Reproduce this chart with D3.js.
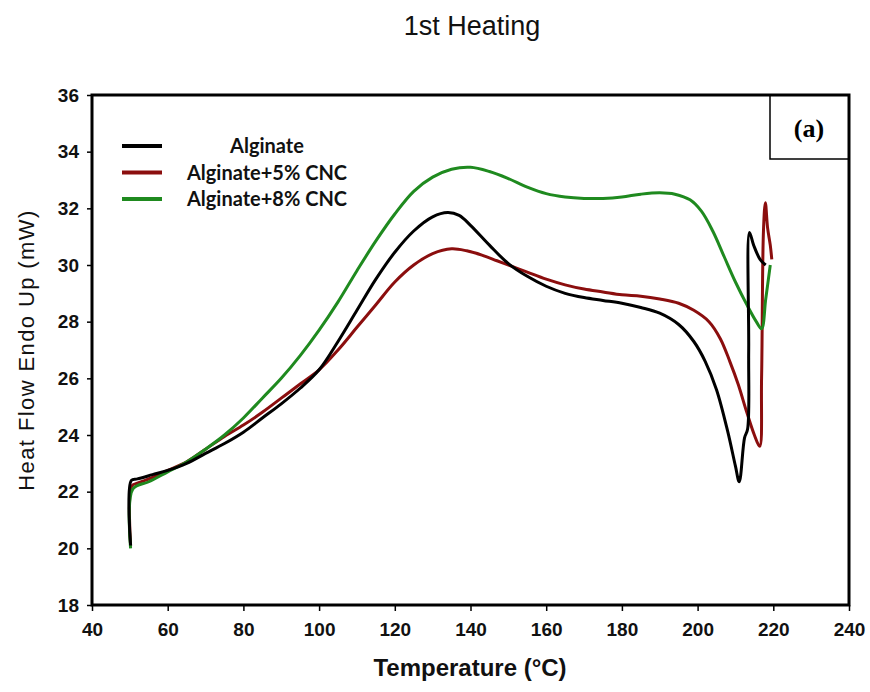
<!DOCTYPE html>
<html>
<head>
<meta charset="utf-8">
<title>1st Heating</title>
<style>
    body { margin: 0; background: #fff; }
    svg text { font-family: "Liberation Sans", Arial, sans-serif; }
</style>
</head>
<body>
<div id="chart"></div>
<script src="https://cdn.jsdelivr.net/npm/d3@7"></script>
<script>
    // data: [temperature, heat flow]
    var alginate = [[50.2,20.1],[50.4,22.4],[52,22.45],[56,22.6],[60,22.75],[65,23.0],[70,23.35],[75,23.7],
        [80,24.1],[85,24.6],[90,25.1],[95,25.65],[100,26.3],[105,27.3],[110,28.4],[115,29.5],[120,30.45],
        [125,31.2],[130,31.7],[134,31.85],[137,31.75],[140,31.4],[145,30.7],[150,30.05],[155,29.6],
        [160,29.25],[165,29.0],[170,28.85],[175,28.75],[180,28.65],[185,28.5],[190,28.3],[195,27.9],
        [199,27.3],[202,26.6],[205,25.6],[208,24.1],[210,22.9],[211,22.35],[212.4,23.9],[213.2,24.2],
        [213.5,27],[213.7,31.15],[214.8,30.7],[216.5,30.2],[218,30.0]];
    var alginate5 = [[50.2,20.1],[50.5,22.2],[52,22.3],[56,22.5],[60,22.75],[65,23.05],[70,23.5],[75,23.95],
        [80,24.35],[85,24.8],[90,25.3],[95,25.8],[100,26.3],[105,27.0],[110,27.8],[115,28.6],[120,29.4],
        [125,30.0],[130,30.4],[135,30.57],[139,30.5],[143,30.35],[147,30.15],[151,29.95],[155,29.75],
        [160,29.5],[165,29.3],[170,29.15],[175,29.05],[180,28.95],[185,28.9],[190,28.8],[195,28.65],
        [199,28.4],[203,28.0],[206,27.4],[208.5,26.6],[210.7,25.8],[213,24.8],[215,24.0],[216.4,23.6],
        [216.9,26],[217.4,31.2],[217.9,32.2],[218.5,31.3],[219.2,30.7],[219.6,30.2]];
    var alginate8 = [[50.2,20.0],[50.8,22.1],[55,22.35],[60,22.7],[65,23.05],[70,23.5],[75,24.0],[80,24.6],
        [85,25.3],[90,26.0],[95,26.8],[100,27.7],[105,28.7],[110,29.8],[115,30.85],[120,31.8],[125,32.6],
        [130,33.1],[135,33.38],[140,33.45],[145,33.3],[150,33.05],[155,32.75],[160,32.52],[165,32.4],
        [170,32.35],[175,32.35],[180,32.4],[185,32.5],[190,32.55],[194,32.5],[198,32.3],[201,31.9],
        [204,31.2],[207,30.3],[210,29.4],[213,28.6],[215.5,28.0],[216.9,27.75],[218,28.8],[219.2,30.0]];

    var seriesNames = ["Alginate", "Alginate+5% CNC", "Alginate+8% CNC"];
    var seriesColors = ["#000000", "#8b0e0e", "#1f8a1f"];
    var xTicks = [40, 60, 80, 100, 120, 140, 160, 180, 200, 220, 240];
    var yTicks = [18, 20, 22, 24, 26, 28, 30, 32, 34, 36];

    var W = 870, H = 692;
    var plotL = 92, plotR = 849, plotT = 95, plotB = 605;

    var svg = d3.select("#chart").append("svg")
        .attr("width", W).attr("height", H);

    var x = d3.scaleLinear().domain([40, 240]).range([plotL, plotR]);
    var y = d3.scaleLinear().domain([18, 36]).range([plotB, plotT]);

    // title
    svg.append("text").attr("x", 472).attr("y", 35)
        .attr("text-anchor", "middle").style("font-size", "27px").attr("fill", "#111")
        .text("1st Heating");

    // axes
    var xAxis = svg.append("g").attr("transform", "translate(0," + plotB + ")")
        .call(d3.axisBottom(x).tickValues(xTicks).tickSize(6).tickPadding(12));
    var yAxis = svg.append("g").attr("transform", "translate(" + plotL + ",0)")
        .call(d3.axisLeft(y).tickValues(yTicks).tickSize(5).tickPadding(8));
    [xAxis, yAxis].forEach(function (g) {
        g.select(".domain").remove();
        g.selectAll("line").attr("stroke", "#000").attr("stroke-width", 1.5);
        g.selectAll("text").attr("fill", "#111")
            .style("font-size", "19px").style("font-weight", "bold")
            .style("font-family", "'Liberation Sans', Arial, sans-serif");
    });

    // curves
    var line = d3.line()
        .x(function (d) { return x(d[0]); })
        .y(function (d) { return y(d[1]); })
        .curve(d3.curveCatmullRom.alpha(0.5));

    [alginate5, alginate8, alginate].forEach(function (s) {
        var i = s === alginate ? 0 : (s === alginate5 ? 1 : 2);
        svg.append("path").datum(s)
            .attr("d", line)
            .attr("fill", "none")
            .attr("stroke", seriesColors[i])
            .attr("stroke-width", 3)
            .attr("stroke-linejoin", "round");
    });

    // (a) box
    svg.append("rect")
        .attr("x", 770).attr("y", plotT)
        .attr("width", plotR - 770).attr("height", 64)
        .attr("fill", "#fff").attr("stroke", "#000").attr("stroke-width", 1.5);
    svg.append("text").attr("x", 809).attr("y", 137)
        .attr("text-anchor", "middle")
        .style("font-family", "'Liberation Serif', 'Times New Roman', serif")
        .style("font-size", "26px").style("font-weight", "bold")
        .text("(a)");

    // frame
    svg.append("rect")
        .attr("x", plotL).attr("y", plotT)
        .attr("width", plotR - plotL).attr("height", plotB - plotT)
        .attr("fill", "none").attr("stroke", "#000").attr("stroke-width", 3);

    // legend
    var legendY = [146, 172.5, 199];
    seriesNames.forEach(function (name, i) {
        svg.append("line")
            .attr("x1", 122).attr("x2", 162)
            .attr("y1", legendY[i]).attr("y2", legendY[i])
            .attr("stroke", seriesColors[i]).attr("stroke-width", 4);
        svg.append("text")
            .attr("x", 267).attr("y", legendY[i] + 7)
            .attr("text-anchor", "middle")
            .style("font-family", "Lato, 'Open Sans', sans-serif")
            .style("font-size", "20px").style("font-weight", "bold")
            .attr("fill", "#111")
            .text(name);
    });

    // axis titles
    svg.append("text").attr("x", 470).attr("y", 676)
        .attr("text-anchor", "middle")
        .style("font-size", "24px").style("font-weight", "bold").attr("fill", "#111")
        .text("Temperature (°C)");
    svg.append("text")
        .attr("transform", "translate(34,350) rotate(-90)")
        .attr("text-anchor", "middle")
        .style("font-size", "22px").style("letter-spacing", "1.4px").attr("fill", "#111")
        .text("Heat Flow Endo Up (mW)");
</script>
</body>
</html>
